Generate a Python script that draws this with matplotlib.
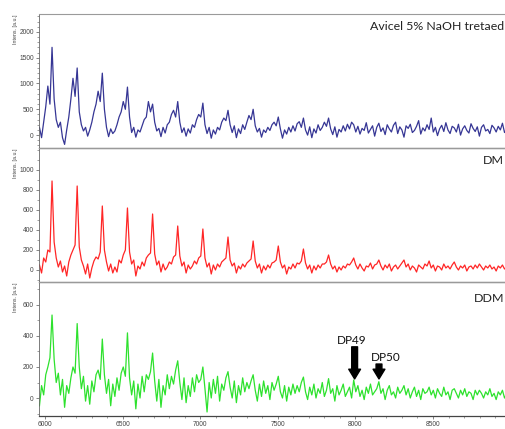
import numpy as np
import matplotlib
matplotlib.use("Agg")
import matplotlib.pyplot as plt
from matplotlib.ticker import MultipleLocator, FixedLocator

# ---------------- data ----------------
mz_start = 5964.0
mz_step = 13.5

avicel = [150, -50, 250, 550, 950, 600, 1700, 700, 300, 150, 250, -50,
          -180, 100, 350, 700, 1100, 750, 1300, 450, 200, 80, 150, -20,
          100, 250, 450, 600, 850, 650, 1200, 500, 150, -30, 120, 30,
          80, 200, 350, 450, 650, 500, 930, 350, 50, 150, -40, 100,
          60, 180, 300, 350, 650, 450, 600, 250, 80, 130, -30, 150,
          40, 200, 250, 400, 480, 350, 650, 250, 50, 140, -20, 120,
          40, 200, 150, 300, 400, 350, 620, 200, 30, 150, -60, 100,
          20, 150, 100, 250, 330, 280, 480, 200, 50, 180, -50, 120,
          30, 200, 110, 250, 380, 300, 500, 180, 60, 130, -40, 100,
          50, 150, 90, 200, 250, 180, 350, 120, -60, 100, 20, 150,
          60, 180, 80, 220, 260, 150, 330, 100, 0, 160, -50, 120,
          40, 200, 90, 150, 250, 170, 330, 120, 10, 160, -40, 110,
          60, 180, 80, 210, 120, 250,
          200, 60, 170, 20, 130, 90, 240, 40, 110, 180,
          -20, 150, 230, 70, 140, 10, 200, 120, 60, 190,
          250, 30, 160, 100, -40, 180, 130, 210, 50, 90,
          170, 280, 20, 140, 80, 200, 110, 330, 60, 150,
          -10, 120, 190, 70, 240, 100, 30, 170, 140, 60,
          210, 0, 120, 180, 90, 40, 220, 130, 70, 160,
          -20, 150, 200, 80, 110, 30, 190, 140, 60, 170,
          100, 230, 50, 120, 150, 40]

dm = [50, -30, 120, 80, 200, 180, 890, 280, 120, 30, 90, -20,
      40, -60, 80, 150, 200, 250, 840, 230, 100, 40, -40, 60,
      -80, 20, 90, 130, 110, 180, 640, 200, 80, -10, 60, -30,
      30, -20, 100, 70, 150, 200, 620, 180, 60, 100, -60, 40,
      10, 80, 40, 120, 150, 170, 560, 160, 50, 90, -20, 60,
      0, 30, 80, 60, 130, 150, 440, 140, 40, 80, -30, 50,
      10, 40, 90, 60, 120, 140, 410, 120, 30, 70, -40, 50,
      0, 60, 30, 80, 100, 120, 330, 100, 40, 70, -30, 40,
      10, 60, 30, 70, 90, 110, 290, 90, 20, 60, -30, 40,
      0, 50, 20, 70, 80, 100, 240, 80, 20, 50, -40, 30,
      10, 60, 20, 70, 60, 90, 210, 70, 10, 50, -30, 40,
      0, 50, 20, 60, 60, 80, 150, 60, 10, 40, -20, 30,
      0, 40, 20, 60, 50, 80,
      120, 50, 10, 60, 20, -10, 40, 30, 70, 10, 50, 60,
      100, 40, 0, 50, 20, 60, -10, 30, 50, 10, 40, 70,
      100, 30, 60, 0, 40, 20, -20, 50, 30, 10, 60, 40,
      90, 20, 50, -10, 40, 30, 0, 60, 20, 40, 10, 50,
      80, 30, 0, 40, 20, 50, -10, 30, 40, 10, 50, 20,
      60, 30, 0, 40, 20, 50, 10, 30, -10, 40, 20, 50, 10, 30, 40, 20]

ddm = [-50, 80, 20, 150, 200, 260, 535, 250, 100, 160, 20, 120,
       -60, 80, 30, 130, 200, 160, 480, 200, 60, 140, -20, 80,
       -40, 110, 40, 150, 180, 120, 380, 150, 30, 120, -50, 90,
       10, 130, 50, 160, 200, 140, 420, 130, 20, 110, -70, 90,
       0, 140, 40, 150, 120, 170, 290, 110, -20, 120, -60, 80,
       20, 150, 60, 140, 90, 180, 240, 100, -10, 130, -30, 80,
       10, 130, 40, 150, 100, 120, 200, 60, -90, 100, 0, 120,
       30, 140, -20, 90, 50, 130, 170, 70, 0, 110, -30, 80,
       20, 130, 40, 100, 60, 110, 150, 50, -20, 90, 10, 110,
       30, 80, -10, 100, 50, 90, 140, 40, 0, 80, -20, 70,
       20, 90, 30, 80, 40, 100,
       135, 40, -10, 70, 20, 90, 0, 60, 30, 100, 10, 50,
       125, 30, 60, -20, 80, 20, 50, 90, 10, 40, 70, 0,
       116, 40, 80, 10, 50, -10, 70, 30, 90, 20, 40, 60,
       105, 30, 60, -10, 50, 80, 20, 40, 0, 70, 30, 50,
       80, 20, 60, 0, 40, 70, 10, 50, -10, 60, 30, 40,
       70, 20, 50, 0, 60, 30, 10, 70, 20, 40, -10, 50,
       60, 30, 0, 50, 20, 60, 10, 40, 30, -10, 50, 20,
       50, 30, 0, 40, 20, 60, 10, 30, -10, 40, 20, 50, 0, 30, 40, 20]

panel_labels = ["Avicel 5% NaOH tretaed", "DM", "DDM"]
ylims = [(-250, 2346), (-120, 1220), (-116, 748)]
yticks = [[0, 500, 1000, 1500, 2000],
          [0, 200, 400, 600, 800, 1000],
          [0, 200, 400, 600]]
yminor = [100, 100, 100]
colors = ["#2b2b8f", "#ff1a1a", "#22e022"]

arrow_labels = ["DP49", "DP50"]
arrow_mz = [7995, 8152]
arrow_top = [330, 219]
arrow_tip = [123, 123]
arrow_text_mz = [7978, 8197]
arrow_text_y = [374, 258]

# ---------------- figure ----------------
W, H = 505, 429
fig = plt.figure(figsize=(W / 100, H / 100), dpi=100)

left = 39 / W
right_px = 505
xlim = (5961, 8964)
tops_px = [14, 148, 282]
bots_px = [148, 282, 416]

series = [avicel, dm, ddm]
axes = []
for k in range(3):
    b = 1 - bots_px[k] / H
    h = (bots_px[k] - tops_px[k]) / H
    ax = fig.add_axes([left, b, (right_px - 39) / W, h])
    y = np.array(series[k], dtype=float)
    x = mz_start + mz_step * np.arange(len(y))
    ax.plot(x, y, color=colors[k], lw=0.9, alpha=0.95)
    ax.set_xlim(*xlim)
    ax.set_ylim(*ylims[k])
    ax.yaxis.set_major_locator(FixedLocator(yticks[k]))
    ax.yaxis.set_minor_locator(MultipleLocator(yminor[k]))
    ax.xaxis.set_major_locator(MultipleLocator(500))
    ax.xaxis.set_minor_locator(MultipleLocator(100))
    ax.tick_params(axis="both", which="major", length=2.5, width=0.5,
                   color="#555555", labelsize=4.8, labelcolor="#444444", pad=1.2)
    ax.tick_params(axis="both", which="minor", length=1.5, width=0.4,
                   color="#555555")
    ax.spines["top"].set_color("#9a9a9a")
    ax.spines["top"].set_linewidth(0.8)
    ax.spines["right"].set_visible(False)
    ax.spines["left"].set_color("#666666")
    ax.spines["left"].set_linewidth(0.6)
    ax.spines["bottom"].set_color("#444444")
    ax.spines["bottom"].set_linewidth(0.9)
    for lab in ax.get_yticklabels() + ax.get_xticklabels():
        lab.set_family("Liberation Sans")
    if k < 2:
        ax.tick_params(axis="x", which="both", bottom=False, labelbottom=False)
    ax.patch.set_alpha(0)
    axes.append(ax)
    fig.text(15.5 / W, 1 - (tops_px[k] + 1) / H, "Intens. [a.u.]", rotation=90,
             ha="center", va="top", fontsize=3.8, color="#444444",
             family="Liberation Sans")

label_y_px = [27, 161, 299]
for k in range(3):
    fig.text(504 / W, 1 - label_y_px[k] / H, panel_labels[k], ha="right",
             va="center", fontsize=8.9, family="Lato", color="#222222")

axb = axes[2]
for i in range(2):
    axb.annotate("", xy=(arrow_mz[i], arrow_tip[i]),
                 xytext=(arrow_mz[i], arrow_top[i]),
                 arrowprops=dict(arrowstyle="simple,head_length=0.7,head_width=0.85,tail_width=0.42",
                                 mutation_scale=10, color="black",
                                 shrinkA=0, shrinkB=0))
    axb.text(arrow_text_mz[i], arrow_text_y[i], arrow_labels[i], ha="center",
             va="center", fontsize=8.5, family="Lato", color="#111111")

fig.savefig("out.png", dpi=100)
